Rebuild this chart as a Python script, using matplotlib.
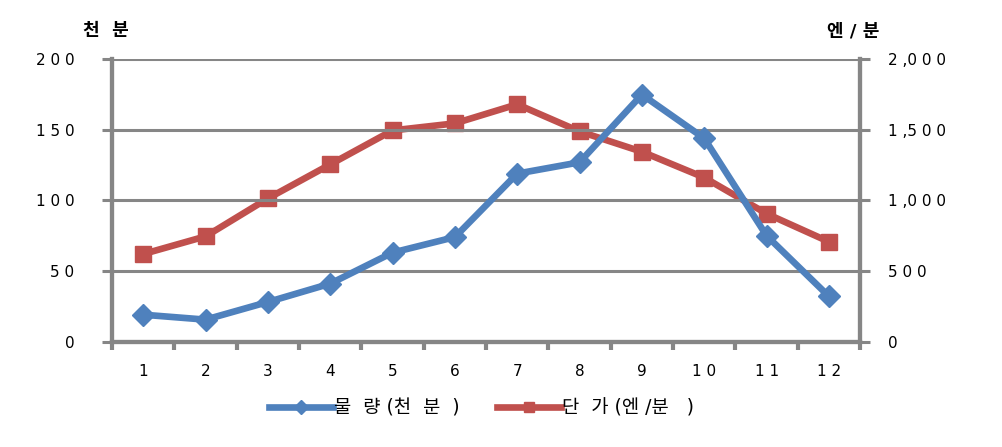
import matplotlib
matplotlib.use("Agg")
import matplotlib.pyplot as plt
from matplotlib.ticker import FixedLocator

# DejaVu first for digits/spaces, Hangul falls back to Noto CJK
plt.rcParams['font.family'] = ['DejaVu Sans', 'Noto Sans CJK KR']

# data
months = ["1", "2", "3", "4", "5", "6", "7", "8", "9", "1 0", "1 1", "1 2"]
volume = [19, 15.5, 28, 41, 63, 74, 119, 127, 175, 144, 75, 32]          # 천 분
price = [620, 745, 1014, 1255, 1496, 1546, 1681, 1489, 1345, 1162, 906, 707]  # 엔/분
left_ticks = [0, 50, 100, 150, 200]
left_labels = ["0", "5 0", "1 0 0", "1 5 0", "2 0 0"]
right_ticks = [0, 500, 1000, 1500, 2000]
right_labels = ["0", "5 0 0", "1 ,0 0 0", "1 ,5 0 0", "2 ,0 0 0"]

gray = "#868686"
blue = "#4F81BD"
red = "#C0504D"

fig = plt.figure(figsize=(10.03, 4.47), dpi=100)
ax = fig.add_axes([0.1117, 0.236, 0.7458, 0.6313])
ax2 = ax.twinx()

x = list(range(len(months)))
ax.set_xlim(-0.5, len(months) - 0.5)
ax.set_ylim(0, 200)
ax2.set_ylim(0, 2000)

# grid on left axis
ax.yaxis.set_major_locator(FixedLocator(left_ticks))
ax.set_yticklabels(left_labels)
ax.grid(axis='y', color=gray, linewidth=2.2)
ax.set_axisbelow(True)

ax2.yaxis.set_major_locator(FixedLocator(right_ticks))
ax2.set_yticklabels(right_labels)

ax.set_xticks(x)
ax.set_xticklabels(months)
ax.set_xticks([i - 0.5 for i in range(len(months) + 1)], minor=True)
ax.tick_params(axis='x', which='major', length=0, pad=16, labelsize=11)
ax.tick_params(axis='x', which='minor', length=6, width=3, color=gray)
ax.tick_params(axis='y', length=7, width=2.2, color=gray, pad=20, labelsize=11)
ax2.tick_params(axis='y', length=7, width=2.2, color=gray, pad=13, labelsize=11)

for a in (ax, ax2):
    a.spines['top'].set_visible(False)
    for s in ('left', 'right', 'bottom'):
        a.spines[s].set_color(gray)
        a.spines[s].set_linewidth(3)

line_v, = ax.plot(x, volume, color=blue, linewidth=4.8, marker='D',
                  markersize=11, label="물  량 (천  분  )", zorder=3)
line_p, = ax2.plot(x, price, color=red, linewidth=4.8, marker='s',
                   markersize=12, label="단  가 (엔 /분   )", zorder=3)
# draw blue above the red series like the original
ax.set_zorder(ax2.get_zorder() + 1)
ax.patch.set_visible(False)

fig.text(0.083, 0.93, "천  분", fontsize=13, fontweight='bold', ha='left', va='center')
fig.text(0.825, 0.93, "엔 / 분", fontsize=13, fontweight='bold', ha='left', va='center')

fig.legend(handles=[line_v, line_p], loc='center', bbox_to_anchor=(0.48, 0.088),
           ncol=2, frameon=False, fontsize=13.5, handlelength=3.4,
           columnspacing=2.0, handletextpad=0.05, markerscale=0.65)

plt.savefig("out.png", dpi=100)
